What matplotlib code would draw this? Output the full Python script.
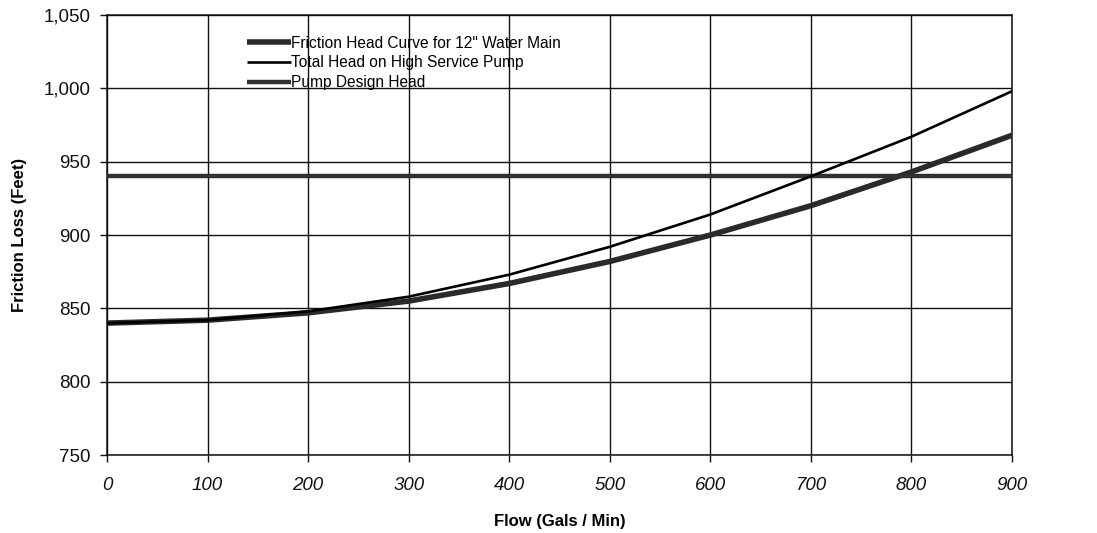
import matplotlib
matplotlib.use("Agg")
import matplotlib.pyplot as plt
from matplotlib.ticker import FuncFormatter

plt.rcParams['font.family'] = ['Liberation Sans', 'DejaVu Sans']

flow = [0, 100, 200, 300, 400, 500, 600, 700, 800, 900]
friction_head = [840, 842, 847, 855, 867, 882, 900, 920, 943, 968]
total_head = [840, 842, 848, 858, 873, 892, 914, 940, 967, 998]
design_head = [940, 940, 940, 940, 940, 940, 940, 940, 940, 940]

labels = ['Friction Head Curve for 12" Water Main',
          'Total Head on High Service Pump',
          'Pump Design Head']

fig = plt.figure(figsize=(10.97, 5.33), dpi=100)
ax = fig.add_axes([0.0975, 0.146, 0.825, 0.826])

ax.plot(flow, friction_head, color='#2a2a2a', lw=4.0, label=labels[0], zorder=3, solid_capstyle='butt')
ax.plot(flow, total_head, color='#000000', lw=1.9, label=labels[1], zorder=4, solid_capstyle='butt')
ax.plot(flow, design_head, color='#303030', lw=3.2, label=labels[2], zorder=3, solid_capstyle='butt')

ax.set_xlim(0, 900)
ax.set_ylim(750, 1050)
ax.set_xticks(range(0, 901, 100))
ax.set_yticks(range(750, 1051, 50))
ax.yaxis.set_major_formatter(FuncFormatter(lambda v, p: f"{int(v):,}"))
ax.grid(True, color='#111111', lw=1.0)
ax.set_axisbelow(True)
for s in ax.spines.values():
    s.set_color('#111111')
    s.set_linewidth(1.1)
ax.tick_params(direction='out', length=5, width=1.0, labelsize=13.5, pad=7, colors='#111111')
ax.tick_params(axis='x', pad=11)
for t in ax.get_xticklabels():
    t.set_fontstyle('italic')

ax.set_xlabel('Flow (Gals / Min)', fontsize=12, fontweight='bold', labelpad=14)
ax.set_ylabel('Friction Loss (Feet)', fontsize=12, fontweight='bold', labelpad=12)

leg = ax.legend(loc='upper left', bbox_to_anchor=(0.148, 0.967), frameon=False,
                fontsize=11.2, handlelength=2.8, handletextpad=0.05,
                labelspacing=0.3, borderaxespad=0)

fig.savefig('out.png', dpi=100, facecolor='white')
